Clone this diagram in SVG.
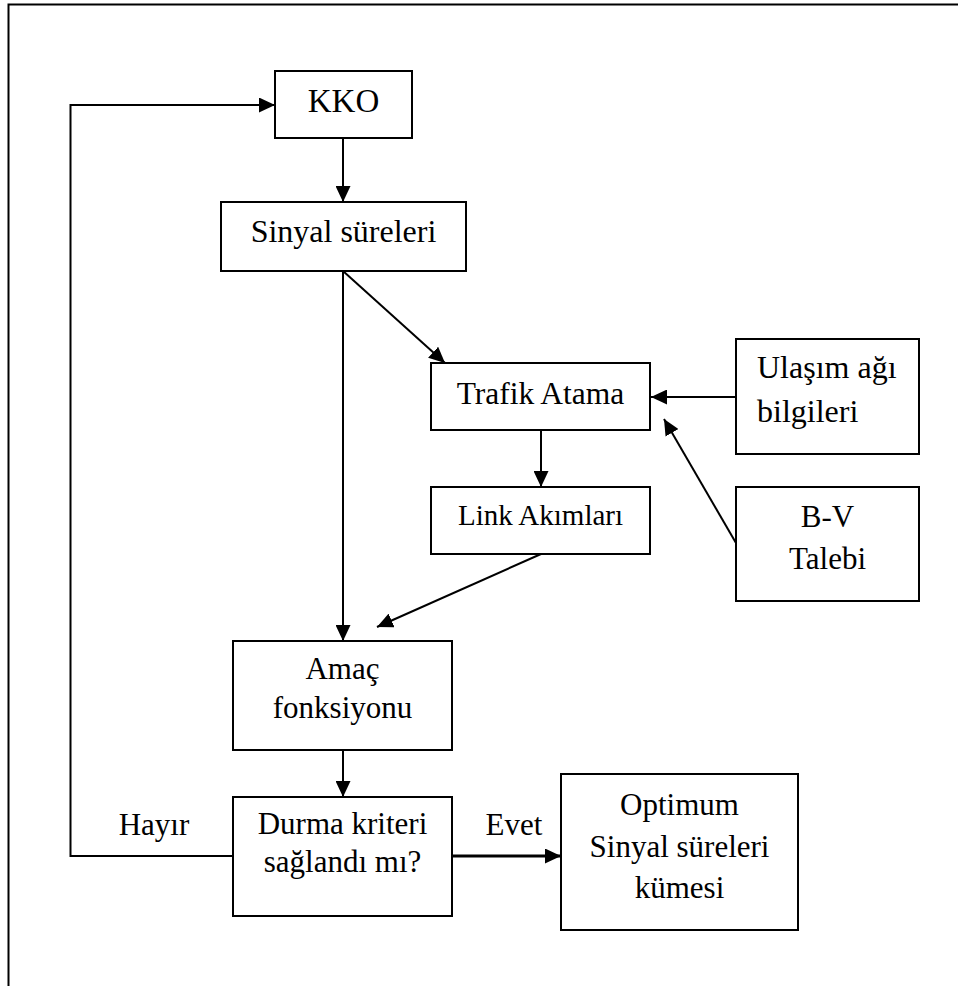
<svg xmlns="http://www.w3.org/2000/svg" width="958" height="986" viewBox="0 0 958 986">
<style>
  .box { fill: #ffffff; stroke: #000000; stroke-width: 2; }
  .ln { fill: none; stroke: #000000; stroke-width: 2; }
  .t { font-family: "Liberation Serif", "Times New Roman", serif; font-size: 31px; fill: #000000; text-anchor: middle; }
  .tl { text-anchor: start; }
</style>
<defs>
  <marker id="ah" markerUnits="userSpaceOnUse" markerWidth="17" markerHeight="15" refX="16" refY="7.5" orient="auto">
    <path d="M0,0 L16,7.5 L0,15 z" fill="#000000"/>
  </marker>
</defs>
<rect width="958" height="986" fill="#ffffff"/>
<path class="ln" d="M8.5,986 V4.5 H958"/>

<g id="connectors">
  <line class="ln" x1="343" y1="138" x2="343" y2="202" marker-end="url(#ah)"/>
  <line class="ln" x1="343" y1="271" x2="445" y2="363" marker-end="url(#ah)"/>
  <line class="ln" x1="343" y1="271" x2="343" y2="641" marker-end="url(#ah)"/>
  <line class="ln" x1="736" y1="397" x2="651" y2="397" marker-end="url(#ah)"/>
  <line class="ln" x1="736" y1="543" x2="664" y2="419" marker-end="url(#ah)"/>
  <line class="ln" x1="541" y1="430" x2="541" y2="487" marker-end="url(#ah)"/>
  <line class="ln" x1="541" y1="554" x2="377" y2="627" marker-end="url(#ah)"/>
  <line class="ln" x1="343" y1="750" x2="343" y2="797" marker-end="url(#ah)"/>
  <polyline class="ln" points="233,856 70.5,856 70.5,105 275,105" marker-end="url(#ah)"/>
  <line class="ln" x1="452" y1="856" x2="561" y2="856" style="stroke-width:3" marker-end="url(#ah)"/>
  <text class="t" x="154" y="835">Hayır</text>
  <text class="t" x="514" y="835">Evet</text>
</g>

<g id="kko">
  <rect class="box" x="275" y="71" width="137" height="67"/>
  <text class="t" x="343.5" y="112" style="font-size:33px">KKO</text>
</g>
<g id="sinyal">
  <rect class="box" x="221" y="202" width="245" height="69"/>
  <text class="t" x="343.5" y="242" style="font-size:32px">Sinyal süreleri</text>
</g>
<g id="trafik">
  <rect class="box" x="431" y="363" width="219" height="67"/>
  <text class="t" x="540.5" y="404" style="font-size:31.5px">Trafik Atama</text>
</g>
<g id="ulasim">
  <rect class="box" x="736" y="339" width="183" height="115"/>
  <text class="t tl" x="757" y="378" style="font-size:32px">Ulaşım ağı</text>
  <text class="t tl" x="757" y="422" style="font-size:32px">bilgileri</text>
</g>
<g id="link">
  <rect class="box" x="431" y="487" width="219" height="67"/>
  <text class="t" x="540.5" y="525" style="font-size:29px">Link Akımları</text>
</g>
<g id="bv">
  <rect class="box" x="736" y="487" width="183" height="114"/>
  <text class="t" x="827.5" y="527">B-V</text>
  <text class="t" x="827.5" y="569">Talebi</text>
</g>
<g id="amac">
  <rect class="box" x="233" y="641" width="219" height="109"/>
  <text class="t" x="342.5" y="679">Amaç</text>
  <text class="t" x="342.5" y="718">fonksiyonu</text>
</g>
<g id="durma">
  <rect class="box" x="233" y="797" width="219" height="119"/>
  <text class="t" x="342.5" y="834">Durma kriteri</text>
  <text class="t" x="342.5" y="872">sağlandı mı?</text>
</g>
<g id="optimum">
  <rect class="box" x="561" y="774" width="237" height="156"/>
  <text class="t" x="679.5" y="815">Optimum</text>
  <text class="t" x="679.5" y="857">Sinyal süreleri</text>
  <text class="t" x="679.5" y="898">kümesi</text>
</g>
</svg>
